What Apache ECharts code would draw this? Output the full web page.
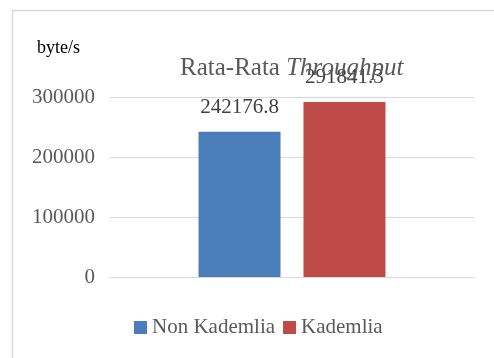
<!DOCTYPE html>
<html><head><meta charset="utf-8">
<script src="https://cdn.jsdelivr.net/npm/echarts@6/dist/echarts.min.js"></script>
<style>html,body{margin:0;padding:0;background:#fff}#c{width:494px;height:358px}</style>
</head><body><div id="c"></div>
<script>
const categories = [''];
const seriesNames = ['Non Kademlia', 'Kademlia'];
const nonKademlia = [242176.8];
const kademlia = [291841.3];
const yTicks = [0, 100000, 200000, 300000];

const chart = echarts.init(document.getElementById('c'));
const F = 'Liberation Serif';
chart.setOption({
  animation: false,
  backgroundColor: '#fff',
  color: ['#4a7ebb', '#be4b48'],
  graphic: [
    {type: 'rect', shape: {x: 12.5, y: 10.5, width: 500, height: 400}, style: {fill: 'none', stroke: '#d9d9d9', lineWidth: 1.5}},
    {type: 'text', left: 37, top: 39, style: {text: 'byte/s', fontFamily: F, fontSize: 18, fill: '#000'}}
  ],
  title: {
    text: '{n|Rata-Rata }{i|Throughput}',
    left: 175, top: 51,
    textStyle: {fontFamily: F, fontWeight: 'normal', rich: {
      n: {fontFamily: F, fontSize: 25, fontWeight: 'normal', color: '#595959'},
      i: {fontFamily: F, fontSize: 25, fontWeight: 'normal', color: '#595959', fontStyle: 'italic'}
    }}
  },
  legend: {
    bottom: 15, left: 129, itemWidth: 13, itemHeight: 13, itemGap: 8,
    icon: 'rect',
    textStyle: {fontFamily: F, fontSize: 21, color: '#595959'},
    data: seriesNames
  },
  grid: {left: 110, right: 20, top: 97, bottom: 81, containLabel: false},
  xAxis: {
    type: 'category', data: categories,
    axisLine: {show: true, lineStyle: {color: '#d9d9d9'}}, axisTick: {show: false}, axisLabel: {show: false}
  },
  yAxis: {
    type: 'value', min: 0, max: yTicks[yTicks.length - 1], interval: 100000,
    axisLine: {show: false}, axisTick: {show: false},
    axisLabel: {fontFamily: F, fontSize: 21, color: '#595959', margin: 15, formatter: v => String(v)},
    splitLine: {lineStyle: {color: '#d9d9d9', width: 1}}
  },
  series: [
    {name: seriesNames[0], type: 'bar', data: nonKademlia, barWidth: 82, barGap: '28%',
     label: {show: true, position: 'top', distance: 14, fontFamily: F, fontSize: 21, color: '#404040', formatter: p => p.value.toFixed(1)}},
    {name: seriesNames[1], type: 'bar', data: kademlia, barWidth: 82,
     label: {show: true, position: 'top', distance: 14, fontFamily: F, fontSize: 21, color: '#404040', formatter: p => p.value.toFixed(1)}}
  ]
});
</script></body></html>
